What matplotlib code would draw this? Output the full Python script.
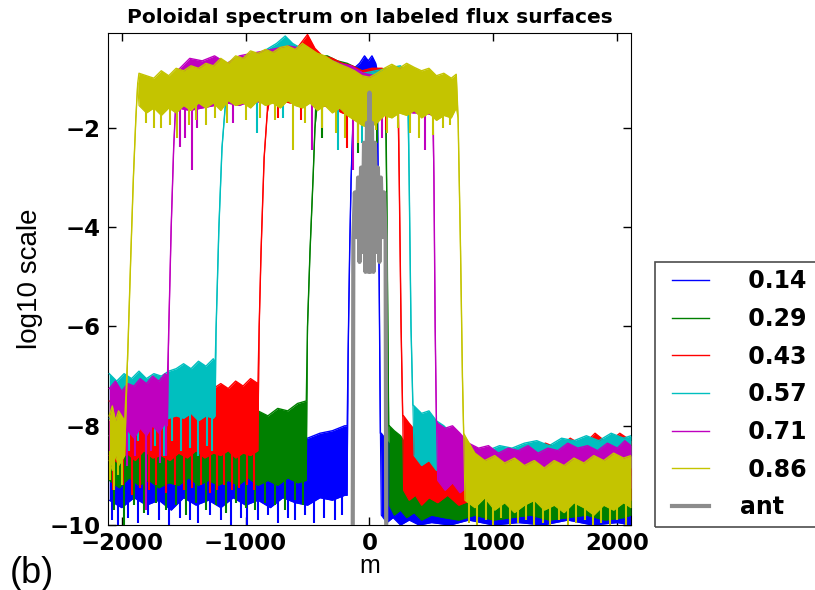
import matplotlib
matplotlib.use("Agg")
import matplotlib.pyplot as plt
from matplotlib.patches import Rectangle

# poloidal mode number m (nodes), upper / lower edge of each noisy band
# series order: 0.14 (b), 0.29 (g), 0.43 (r), 0.57 (c), 0.71 (m), 0.86 (y)

m_b = [-2100,-2000,-1900,-1800,-1700,-1600,-1500,-1400,-1300,-1200,
       -1100,-1000,-900,-800,-700,-600,-500,-400,-300,-200,-180,
       -172,-160,-148,-135,
       -125,-80,-40,-10,20,50,62,
       70,78,88,
       95,140,190,250,320,400,500,650,800,1000,1200,1400,1600,1800,2000,2110]
hi_b = [-8.60,-8.50,-8.65,-8.55,-8.60,-8.45,-8.55,-8.45,-8.50,-8.40,
        -8.45,-8.35,-8.40,-8.30,-8.35,-8.20,-8.25,-8.15,-8.10,-8.00,-8.00,
        -6.5,-4.5,-3.0,-2.0,
        -0.80,-0.70,-0.55,-0.65,-0.55,-0.70,-0.85,
        -3.0,-5.0,-8.15,
        -8.15,-8.30,-8.45,-8.70,-8.90,-9.00,-9.10,-9.20,-9.15,-9.25,-9.20,-9.15,-9.25,-9.20,-9.15,-9.20]
lo_b = [-9.50,-9.65,-9.45,-9.60,-9.50,-9.70,-9.45,-9.60,-9.50,-9.65,
        -9.45,-9.60,-9.50,-9.65,-9.45,-9.55,-9.60,-9.45,-9.50,-9.40,-9.40,
        -6.5,-4.5,-3.0,-2.0,
        -1.6,-1.7,-1.8,-1.7,-1.8,-1.7,-1.8,
        -3.0,-5.0,-8.15,
        -9.80,-9.95,-9.85,-10.0,-9.90,-10.0,-9.95,-10.0,-9.90,-10.0,-9.95,-10.0,-9.90,-10.0,-9.95,-10.0]

m_g = [-2100,-2020,-1940,-1860,-1780,-1700,-1620,-1540,-1460,-1380,
       -1300,-1220,-1140,-1060,-980,-900,-820,-740,-660,-580,-510,
       -500,-480,-455,-440,
       -420,-340,-260,-180,-100,-20,60,130,
       140,148,155,
       160,200,250,300,360,420,500,600,720,850,1000,1150,1300,1450,1600,1750,1900,2050,2110]
hi_g = [-8.20,-8.10,-8.25,-8.05,-8.15,-8.00,-8.10,-7.95,-8.05,-7.90,
        -7.95,-7.85,-7.95,-7.80,-7.85,-7.70,-7.80,-7.65,-7.70,-7.55,-7.50,
        -6.0,-4.5,-3.0,-2.0,
        -0.55,-0.55,-0.65,-0.70,-0.80,-0.90,-0.85,-0.95,
        -3.5,-6.0,-8.0,
        -8.00,-8.10,-8.20,-8.40,-8.60,-8.75,-8.85,-8.90,-9.00,-8.95,-9.00,-8.90,-9.00,-8.95,-8.90,-9.00,-8.90,-8.95,-9.00]
lo_g = [-9.10,-9.25,-9.05,-9.20,-9.10,-9.25,-9.15,-9.20,-9.05,-9.20,
        -9.10,-9.20,-9.10,-9.20,-9.05,-9.20,-9.10,-9.20,-9.05,-9.15,-9.10,
        -6.0,-4.5,-3.0,-2.0,
        -1.5,-1.55,-1.6,-1.65,-1.7,-1.75,-1.7,-1.75,
        -3.5,-6.0,-8.0,
        -9.60,-9.80,-9.70,-9.85,-9.75,-9.90,-9.80,-9.85,-9.90,-9.80,-9.90,-9.85,-9.80,-9.90,-9.85,-9.80,-9.90,-9.85,-9.80]

m_r = [-2100,-2030,-1960,-1890,-1820,-1750,-1680,-1610,-1540,-1470,
       -1400,-1330,-1260,-1200,-1140,-1080,-1020,-960,-900,
       -890,-875,-862,-850,-825,
       -810,-720,-640,-570,-500,-440,-380,-300,-220,-140,-60,20,100,180,230,
       240,255,268,
       275,320,370,420,480,550,630,720,820,920,1020,1120,1220,1320,1420,1520,1620,1720,1820,1920,2020,2110]
hi_r = [-7.50,-7.60,-7.45,-7.55,-7.40,-7.50,-7.35,-7.45,-7.30,-7.40,
        -7.30,-7.35,-7.25,-7.15,-7.25,-7.10,-7.20,-7.05,-7.15,
        -6.0,-4.5,-3.5,-2.6,-1.7,
        -0.70,-0.55,-0.45,-0.35,-0.12,-0.40,-0.55,-0.60,-0.70,-0.75,-0.85,-0.80,-0.80,-0.85,-0.95,
        -3.0,-6.0,-7.8,
        -7.80,-7.95,-8.10,-8.30,-8.45,-8.55,-8.65,-8.70,-8.60,-8.65,-8.55,-8.60,-8.50,-8.45,-8.35,-8.45,-8.25,-8.40,-8.15,-8.35,-8.15,-8.30]
lo_r = [-8.60,-8.75,-8.55,-8.70,-8.50,-8.65,-8.60,-8.70,-8.55,-8.65,
        -8.50,-8.65,-8.55,-8.60,-8.50,-8.65,-8.55,-8.60,-8.50,
        -6.0,-4.5,-3.5,-2.6,-1.7,
        -1.5,-1.45,-1.5,-1.45,-1.5,-1.45,-1.55,-1.6,-1.7,-1.75,-1.8,-1.75,-1.7,-1.65,-1.7,
        -3.0,-6.0,-7.8,
        -9.30,-9.50,-9.40,-9.60,-9.45,-9.55,-9.40,-9.60,-9.50,-9.45,-9.60,-9.50,-9.55,-9.40,-9.60,-9.50,-9.45,-9.60,-9.50,-9.55,-9.45,-9.50]

m_c = [-2100,-2040,-1980,-1920,-1860,-1800,-1740,-1680,-1620,-1560,
       -1500,-1440,-1380,-1320,-1260,-1245,
       -1238,-1215,-1190,-1165,
       -1150,-1050,-950,-850,-750,-680,-620,-550,-450,-350,-250,-150,-50,50,150,250,310,
       320,335,350,
       360,420,480,540,600,680,760,850,950,1050,1150,1250,1350,1450,1550,1650,1750,1850,1950,2050,2110]
hi_c = [-6.95,-7.10,-6.95,-7.05,-6.90,-7.05,-6.95,-7.00,-6.90,-6.85,
        -6.75,-6.85,-6.70,-6.80,-6.65,-6.75,
        -6.07,-4.0,-2.4,-1.6,
        -0.75,-0.60,-0.55,-0.45,-0.30,-0.15,-0.30,-0.40,-0.50,-0.60,-0.70,-0.80,-0.90,-0.85,-0.80,-0.75,-0.90,
        -3.0,-6.0,-7.58,
        -7.60,-7.75,-7.70,-7.90,-8.00,-8.20,-8.40,-8.45,-8.50,-8.40,-8.45,-8.35,-8.30,-8.40,-8.25,-8.30,-8.20,-8.30,-8.15,-8.25,-8.20]
lo_c = [-7.85,-8.00,-7.80,-7.95,-7.85,-8.00,-7.80,-7.90,-7.85,-7.80,
        -7.85,-7.75,-7.90,-7.80,-7.85,-7.80,
        -6.07,-4.0,-2.4,-1.6,
        -1.5,-1.45,-1.5,-1.45,-1.4,-1.45,-1.4,-1.45,-1.5,-1.55,-1.6,-1.7,-1.8,-1.7,-1.65,-1.6,-1.7,
        -3.0,-6.0,-7.58,
        -8.60,-8.80,-8.70,-8.90,-8.85,-9.00,-9.05,-8.95,-9.10,-9.00,-9.05,-8.95,-9.00,-8.90,-8.95,-8.85,-8.90,-8.80,-8.85,-8.80,-8.85]

m_m = [-2100,-2050,-2000,-1950,-1900,-1850,-1800,-1750,-1700,-1650,-1630,
       -1620,-1600,-1580,-1565,
       -1550,-1450,-1350,-1250,-1150,-1050,-950,-850,-750,-650,-550,-450,-350,-250,-150,-50,50,150,250,350,450,510,
       520,530,540,
       550,610,670,730,800,880,960,1040,1120,1200,1280,1360,1440,1520,1600,1680,1760,1840,1920,2000,2060,2110]
hi_m = [-7.25,-7.10,-7.30,-7.15,-7.20,-7.05,-7.15,-7.00,-7.10,-6.95,-7.00,
        -6.1,-4.0,-2.4,-1.6,
        -0.85,-0.60,-0.65,-0.55,-0.70,-0.55,-0.50,-0.45,-0.40,-0.35,-0.40,-0.50,-0.60,-0.70,-0.75,-0.90,-0.95,-0.85,-0.80,-0.85,-0.90,-1.00,
        -3.0,-6.0,-7.9,
        -7.95,-8.05,-8.00,-8.15,-8.35,-8.45,-8.40,-8.55,-8.45,-8.50,-8.40,-8.55,-8.45,-8.50,-8.35,-8.45,-8.40,-8.50,-8.35,-8.45,-8.30,-8.40]
lo_m = [-8.20,-8.00,-8.30,-8.10,-8.25,-8.05,-8.20,-8.00,-8.15,-7.95,-8.00,
        -6.1,-4.0,-2.4,-1.6,
        -1.6,-1.65,-1.6,-1.55,-1.5,-1.55,-1.45,-1.5,-1.45,-1.45,-1.45,-1.5,-1.55,-1.6,-1.7,-1.8,-1.8,-1.7,-1.65,-1.7,-1.7,-1.75,
        -3.0,-6.0,-7.9,
        -9.10,-9.30,-9.15,-9.35,-9.20,-9.40,-9.25,-9.30,-9.45,-9.20,-9.35,-9.25,-9.40,-9.30,-9.20,-9.35,-9.25,-9.40,-9.30,-9.20,-9.35,-9.25]

m_y = [-2100,-2075,-2050,-2025,-2000,-1975,
       -1950,-1925,-1905,-1885,-1870,
       -1860,-1800,-1740,-1680,-1620,-1560,-1500,-1440,-1380,-1320,
       -1260,-1200,-1140,-1080,-1020,-960,-900,-840,-780,-720,
       -660,-600,-540,-480,-420,-360,-300,-240,-180,-120,
       -60,0,60,120,180,240,300,360,420,480,
       540,600,660,700,
       715,735,750,760,
       770,850,930,1010,1090,1170,1250,1330,1410,1490,
       1570,1650,1730,1810,1890,1970,2050,2110]
hi_y = [-7.8,-7.6,-7.9,-7.7,-7.8,-7.9,
        -6.5,-4.5,-3.0,-1.8,-1.1,
        -0.90,-0.95,-1.00,-0.85,-0.95,-0.80,-0.85,-0.75,-0.80,-0.70,
        -0.75,-0.60,-0.70,-0.55,-0.60,-0.45,-0.50,-0.42,-0.48,-0.38,
        -0.35,-0.42,-0.30,-0.40,-0.50,-0.55,-0.65,-0.72,-0.78,-0.85,
        -0.95,-0.98,-0.90,-0.80,-0.72,-0.80,-0.70,-0.78,-0.85,-0.80,
        -0.95,-0.90,-1.00,-0.92,
        -1.8,-4.5,-7.0,-8.15,
        -8.20,-8.55,-8.70,-8.60,-8.75,-8.65,-8.80,-8.70,-8.85,-8.70,
        -8.80,-8.65,-8.75,-8.60,-8.70,-8.55,-8.65,-8.60]
lo_y = [-8.7,-8.9,-8.6,-8.8,-8.7,-8.6,
        -6.5,-4.5,-3.0,-1.8,-1.1,
        -1.55,-1.70,-1.60,-1.75,-1.60,-1.70,-1.55,-1.65,-1.50,-1.60,
        -1.50,-1.65,-1.45,-1.55,-1.50,-1.60,-1.45,-1.55,-1.50,-1.60,
        -1.45,-1.55,-1.60,-1.50,-1.65,-1.55,-1.70,-1.60,-1.75,-1.85,
        -1.95,-2.00,-1.90,-1.75,-1.80,-1.70,-1.75,-1.65,-1.80,-1.70,
        -1.85,-1.75,-1.80,-1.60,
        -1.8,-4.5,-7.0,-8.15,
        -9.50,-9.65,-9.45,-9.70,-9.55,-9.75,-9.60,-9.50,-9.70,-9.60,
        -9.75,-9.55,-9.65,-9.80,-9.60,-9.70,-9.55,-9.65]

# thin downward spikes seen below the bands: m, lowest value, and the band value they start from
spk_m_b = [-2080,-2030,-1950,-1870,-1790,-1700,-1620,-1530,-1450,-1380,-1290,-1200,-1120,
           -1040,-990,-900,-820,-740,-660,-600,-520,-450,-370,-280,-220]
spk_v_b = [-9.9,-10.0,-9.85,-9.95,-9.8,-9.9,-10.0,-9.85,-9.9,-9.95,-9.8,-9.9,-10.0,
           -9.85,-10.0,-9.9,-9.8,-9.95,-9.85,-9.9,-9.8,-9.95,-9.85,-9.9,-9.8]
spk_t_b = -9.3
spk_m_g = [-2060,-1980,-1900,-1820,-1720,-1640,-1560,-1480,-1400,-1320,-1240,-1160,-1080,-1000,
           -920,-840,-760,-680,-600,-540, -380,-90,60]
spk_v_g = [-9.7,-10.0,-9.6,-9.75,-9.55,-9.7,-9.6,-9.8,-9.55,-9.7,-9.6,-9.75,-9.55,-9.65,
           -9.7,-9.55,-9.6,-9.7,-9.5,-9.6, -2.2,-2.5,-2.3]
spk_t_g = [-9.0]*20 + [-1.5]*3
spk_m_r = [-2070,-1990,-1920,-1850,-1780,-1720,-1640,-1570,-1500,-1430,-1360,-1290,-1230,-1170,
           -1110,-1050,-990,-930, -735,-555,-180,130]
spk_v_r = [-9.3,-9.2,-9.4,-9.25,-9.3,-9.2,-9.35,-9.2,-9.3,-9.25,-9.2,-9.35,-9.3,-9.2,
           -9.3,-9.25,-9.2,-9.3, -1.8,-1.85,-2.4,-2.05]
spk_t_r = [-8.4]*18 + [-1.5]*4
spk_m_c = [-2080,-2010,-1940,-1870,-1800,-1730,-1660,-1590,-1520,-1450,-1380,-1310,-1270,
           -905,-700,-250,-60]
spk_v_c = [-8.4,-8.6,-8.5,-8.3,-8.55,-8.4,-8.6,-8.3,-8.5,-8.45,-8.6,-8.4,-8.5,
           -2.1,-1.8,-2.45,-2.3]
spk_t_c = [-7.7]*13 + [-1.5]*4
spk_m_m = [-2090,-2030,-1960,-1890,-1800,-1760,-1690,-1640,
           -1525,-1490,-1430,-1390,-1105,-460,-130,100,450]
spk_v_m = [-8.7,-8.5,-8.8,-8.6,-9.7,-8.5,-8.75,-8.6,
           -2.38,-2.2,-2.85,-2.0,-1.9,-2.45,-2.85,-2.2,-2.45]
spk_t_m = [-7.9]*8 + [-1.5]*9
spk_m_y = [-2090,-2060,-2030,-2000,
           -1800,-1740,-1685,-1610,-1550,-1460,-1400,-1320,-1250,-1150,-1000,-880,-760,-620,-520,
           -380,-270,-200,-90,0,50,140,230,330,400,510,590,650,
           800,870,940,1000,1060,1130,1200,1260,1330,1400,1460,1530,1600,1670,1740,1800,1870,1940,2000,2070]
spk_v_y = [-9.1,-9.3,-9.0,-9.2,
           -1.9,-2.0,-2.0,-1.95,-2.2,-1.95,-1.85,-1.95,-1.8,-1.9,-1.85,-1.8,-1.85,-2.45,-1.9,
           -2.0,-2.1,-2.2,-2.3,-2.2,-2.05,-2.1,-2.0,-2.1,-2.2,-2.15,-2.0,-1.95,
           -9.95,-10.0,-9.9,-10.0,-9.85,-10.0,-9.95,-9.9,-10.0,-9.95,-10.0,-9.9,-10.0,-9.95,-9.9,-10.0,-9.95,-10.0,-9.9,-10.0]
spk_t_y = [-8.5]*4 + [-1.4]*28 + [-9.4]*20

# antenna spectrum
ant_m = [-135,-130,-118,-105,-92,-80,-68,-56,-44,-32,-20,-8,0,8,20,32,44,56,68,80,92,105,118,130,135]
ant_v = [-10.0,-4.2,-3.3,-4.2,-3.0,-4.7,-2.8,-4.5,-2.3,-4.9,-1.9,-4.9,-1.29,-4.9,-1.9,-4.9,-2.3,-4.5,-2.8,-4.7,-3.0,-4.2,-3.3,-4.2,-10.0]

labels = [" 0.14", " 0.29", " 0.43", " 0.57", " 0.71", " 0.86"]
colors = ["#0000ff", "#008000", "#ff0000", "#00bfbf", "#bf00bf", "#c4c400"]

series = [(m_b, hi_b, lo_b), (m_g, hi_g, lo_g), (m_r, hi_r, lo_r),
          (m_c, hi_c, lo_c), (m_m, hi_m, lo_m), (m_y, hi_y, lo_y)]
spikes = [(spk_m_b, spk_v_b, spk_t_b), (spk_m_g, spk_v_g, spk_t_g),
          (spk_m_r, spk_v_r, spk_t_r), (spk_m_c, spk_v_c, spk_t_c),
          (spk_m_m, spk_v_m, spk_t_m), (spk_m_y, spk_v_y, spk_t_y)]

fig = plt.figure(figsize=(8.15, 5.9), dpi=100)
ax = fig.add_axes([0.1325, 0.110, 0.6417, 0.834])

for i, (m, hi, lo) in enumerate(series):
    z = 2 + i
    ax.fill_between(m, lo, hi, color=colors[i], lw=0, zorder=z)
    ax.plot(m, hi, color=colors[i], lw=1.0, label=labels[i], zorder=z)
    ax.plot(m, lo, color=colors[i], lw=0.8, zorder=z)
    sm, sv, st = spikes[i]
    ax.vlines(sm, sv, st, color=colors[i], lw=1.5, zorder=z)

ax.plot(ant_m, ant_v, color="0.55", lw=3, label="ant", zorder=10)

ax.set_xlim(-2110, 2110)
ax.set_ylim(-10, -0.09)
ax.set_xticks([-2000, -1000, 0, 1000, 2000])
ax.set_yticks([-10, -8, -6, -4, -2])
ax.tick_params(direction="in", length=6, width=1, top=True, right=True,
               labelsize=16.5, pad=5)
plt.setp(ax.get_xticklabels(), fontweight="bold")
plt.setp(ax.get_yticklabels(), fontweight="bold")

ax.set_title("Poloidal spectrum on labeled flux surfaces", fontsize=14.5,
             fontweight="bold", pad=7)
ax.set_xlabel("m", fontsize=18, family="Liberation Sans", labelpad=-1)
ax.set_ylabel("log10 scale", fontsize=20, family="Liberation Sans", labelpad=5)
fig.text(0.012, 0.012, "(b)", fontsize=26, family="Liberation Sans")

# legend box runs off the right edge of the figure, as in the original
leg = ax.legend(loc="lower left", bbox_to_anchor=(664 / 815, 63 / 590),
                bbox_transform=fig.transFigure, prop={"size": 17, "weight": "bold"},
                handlelength=1.6, handletextpad=1.3, labelspacing=0.58,
                borderpad=0.32, borderaxespad=0, frameon=False)
fig.add_artist(Rectangle((655 / 815, 63 / 590), 180 / 815, 265 / 590,
                         transform=fig.transFigure, fill=False,
                         edgecolor="0.3", lw=1.2, clip_on=False))

fig.savefig("out.png", dpi=100)
